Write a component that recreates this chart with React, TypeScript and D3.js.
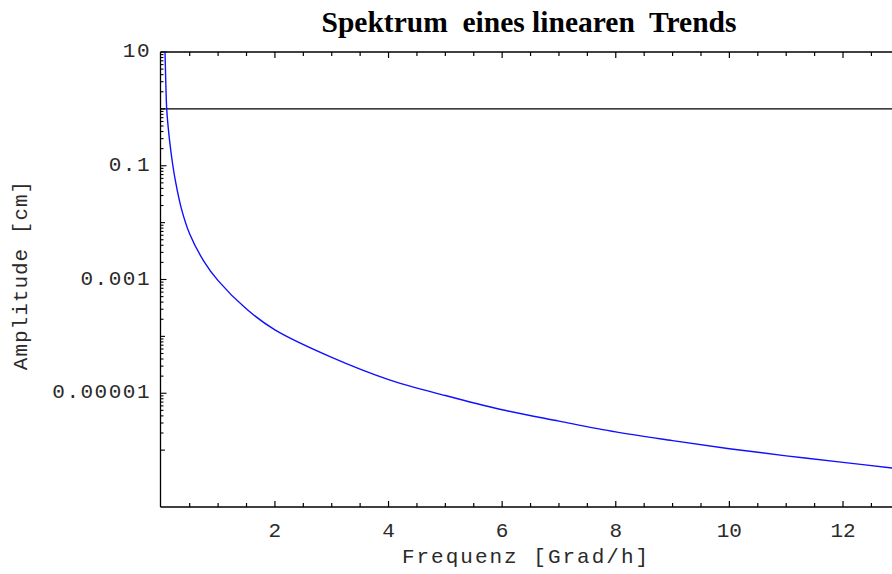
import React from 'react';
import * as d3 from 'd3';

// Data
const freq = [0.055, 0.065, 0.095, 0.12, 0.153, 0.2, 0.25, 0.35, 0.5, 0.75, 1.0, 1.5, 2.0, 3.0, 4.0, 5.0, 6.0, 7.0, 8.0, 9.0, 10.0, 11.0, 12.0, 12.88];
const amplitude = [20, 10, 1.0, 0.49, 0.24, 0.1062, 0.0531, 0.0182, 0.00631, 0.00209, 0.000955, 0.000302, 0.00013, 4.27e-5, 1.74e-5, 9.12e-6, 5.13e-6, 3.24e-6, 2.09e-6, 1.47e-6, 1.06e-6, 7.94e-7, 6.1e-7, 4.84e-7];
const xTickValues = [2, 4, 6, 8, 10, 12];
const xTickLabels = ['2', '4', '6', '8', '10', '12'];
const yLabelValues = [10, 0.1, 0.001, 0.00001];
const yLabelTexts = ['10', '0.1', '0.001', '0.00001'];
const yDecadeExponents = [-6, -5, -4, -3, -2, -1, 0, 1];
const trendLevel = 1;
const titleText = 'Spektrum  eines linearen  Trends';
const xAxisTitle = 'Frequenz [Grad/h]';
const yAxisTitle = 'Amplitude [cm]';

const W = 892;
const H = 574;
const left = 160.5;
const right = 893;
const top = 52;
const bottom = 507;

const mono = "'Liberation Mono', 'DejaVu Sans Mono', monospace";
const serif = "'Liberation Serif', 'Times New Roman', serif";

export default function App() {
  const x = d3.scaleLinear().domain([0, 12.88]).range([161.3, right]);
  const y = d3.scaleLog().domain([1e-7, 10]).range([bottom, top]);

  const pts = freq.map((f, i) => [f, amplitude[i]] as [number, number]);
  const line = d3
    .line<[number, number]>()
    .x((d) => x(d[0]))
    .y((d) => y(d[1]))
    .curve(d3.curveCatmullRom.alpha(0.5));

  // x ticks: minor every 0.5
  const xMinor: number[] = [];
  for (let k = 1; k <= 25; k++) {
    const v = k * 0.5;
    if (v % 2 !== 0) xMinor.push(v);
  }

  // y minor ticks
  const yMinor: number[] = [];
  yDecadeExponents.slice(0, -1).forEach((e) => {
    for (let m = 2; m <= 9; m++) yMinor.push(m * Math.pow(10, e));
  });
  const yDecades = yDecadeExponents.map((e) => Math.pow(10, e));
  const labeled = new Set(yLabelValues.map((v) => Math.round(Math.log10(v))));

  return (
    <svg
      width={W}
      height={H}
      style={{ position: 'absolute', left: 0, top: 0, background: '#fff' }}
    >
      <defs>
        <clipPath id="plotclip">
          <rect x={left} y={top} width={right - left} height={bottom - top} />
        </clipPath>
      </defs>
      <rect x={0} y={0} width={W} height={H} fill="#fff" />

      {/* title */}
      <text
        x={529}
        y={32}
        textAnchor="middle"
        fontFamily={serif}
        fontWeight="bold"
        fontSize={29.5}
        fill="#000"
        style={{ whiteSpace: 'pre' }}
      >
        {titleText}
      </text>

      {/* frame */}
      <g stroke="#000" strokeWidth={1.3} fill="none">
        <line x1={left} x2={right} y1={top} y2={top} />
        <line x1={left} x2={right} y1={bottom} y2={bottom} />
        <line x1={left} x2={left} y1={top} y2={bottom} />
      </g>

      {/* x ticks bottom & top */}
      <g stroke="#000" strokeWidth={1.2}>
        {xTickValues.map((v) => (
          <g key={'xM' + v}>
            <line x1={x(v)} x2={x(v)} y1={bottom} y2={bottom - 6} />
            <line x1={x(v)} x2={x(v)} y1={top} y2={top + 6} />
          </g>
        ))}
        {xMinor.map((v) => (
          <g key={'xm' + v}>
            <line x1={x(v)} x2={x(v)} y1={bottom} y2={bottom - 4} />
            <line x1={x(v)} x2={x(v)} y1={top} y2={top + 4} />
          </g>
        ))}
      </g>

      {/* y ticks */}
      <g stroke="#000" strokeWidth={1.1}>
        {yDecades.map((v) => {
          const e = Math.round(Math.log10(v));
          const len = labeled.has(e) ? 6 : 4.5;
          return <line key={'yd' + e} x1={left} x2={left + len} y1={y(v)} y2={y(v)} />;
        })}
        {yMinor.map((v, i) => (
          <line key={'ym' + i} x1={left} x2={left + 3} y1={y(v)} y2={y(v)} />
        ))}
      </g>

      {/* x tick labels */}
      <g fontFamily={mono} fontSize={21} fill="#2a2a2a" textAnchor="middle">
        {xTickValues.map((v, i) => (
          <text key={'xl' + v} x={x(v)} y={537}>
            {xTickLabels[i]}
          </text>
        ))}
      </g>

      {/* y tick labels */}
      <g fontFamily={mono} fontSize={21} fill="#2a2a2a" textAnchor="end">
        {yLabelValues.map((v, i) => (
          <text key={'yl' + i} x={151} y={y(v) + 5} letterSpacing={1.5}>
            {yLabelTexts[i]}
          </text>
        ))}
      </g>

      {/* axis titles */}
      <text
        x={526}
        y={563}
        textAnchor="middle"
        fontFamily={mono}
        fontSize={21}
        fill="#2a2a2a"
        letterSpacing={2}
        style={{ whiteSpace: 'pre' }}
      >
        {xAxisTitle}
      </text>
      <text
        transform={`translate(27,275) rotate(-90)`}
        textAnchor="middle"
        fontFamily={mono}
        fontSize={21}
        fill="#2a2a2a"
        letterSpacing={1}
        style={{ whiteSpace: 'pre' }}
      >
        {yAxisTitle}
      </text>

      {/* data */}
      <g clipPath="url(#plotclip)">
        <line
          x1={left}
          x2={right}
          y1={y(trendLevel)}
          y2={y(trendLevel)}
          stroke="#000"
          strokeWidth={1.3}
        />
        <path d={line(pts) || ''} fill="none" stroke="#1010ff" strokeWidth={1.4} />
      </g>
    </svg>
  );
}
